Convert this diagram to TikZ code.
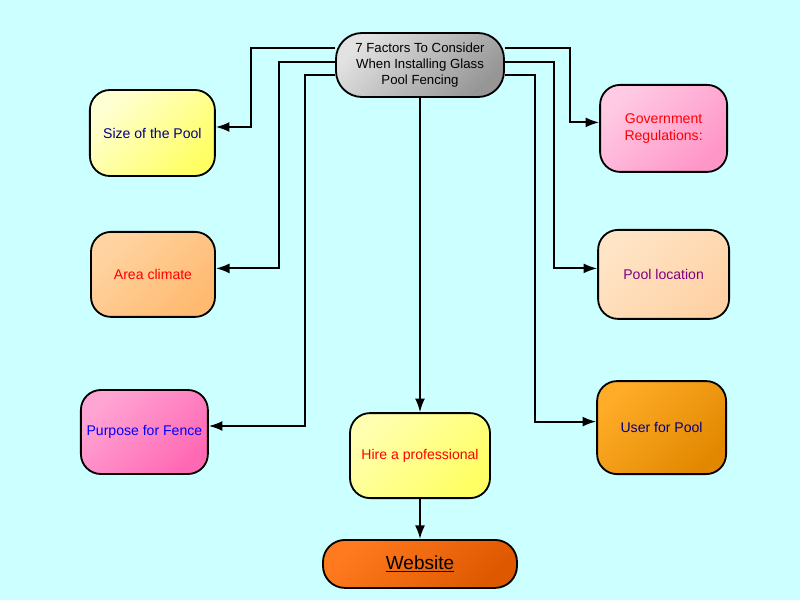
\documentclass[tikz,border=0pt]{standalone}
\usepackage{fontspec}
\setmainfont{Liberation Sans}
\usepackage{tikz}
\usetikzlibrary{arrows.meta,positioning,shadings}
\definecolor{canvas}{RGB}{204,255,255}
\definecolor{topA}{RGB}{226,226,226}
\definecolor{topB}{RGB}{150,150,150}
\definecolor{sizeA}{RGB}{255,255,212}
\definecolor{sizeB}{RGB}{255,255,100}
\definecolor{govA}{RGB}{255,202,228}
\definecolor{govB}{RGB}{255,150,200}
\definecolor{areaA}{RGB}{255,212,162}
\definecolor{areaB}{RGB}{255,186,112}
\definecolor{locA}{RGB}{255,228,198}
\definecolor{locB}{RGB}{255,210,165}
\definecolor{purpA}{RGB}{255,165,212}
\definecolor{purpB}{RGB}{255,105,180}
\definecolor{hireA}{RGB}{255,255,175}
\definecolor{hireB}{RGB}{255,255,100}
\definecolor{userA}{RGB}{255,172,40}
\definecolor{userB}{RGB}{226,136,0}
\definecolor{webA}{RGB}{255,122,30}
\definecolor{webB}{RGB}{222,88,0}
\definecolor{navy}{RGB}{0,0,128}
\definecolor{violet}{RGB}{128,0,128}

\begin{document}
\begin{tikzpicture}[
    factor/.style={rectangle, draw, line width=1.3pt, rounded corners=0.5cm, align=center, font=\fontsize{10}{12}\selectfont},
    grad/.style 2 args={top color=#1, bottom color=#2, shading angle=45},
    link/.style={-{Latex[length=3.4mm,width=2.5mm]}, line width=1.3pt}
]
    \fill[canvas] (0,0) rectangle (20,15);

    \node[factor, grad={topA}{topB}, minimum width=4.2cm, minimum height=1.6cm, rounded corners=0.65cm, font=\fontsize{9.4}{11.2}\selectfont] (top) at (10.5,13.375) {7 Factors To Consider\\When Installing Glass\\Pool Fencing};
    \node[factor, grad={sizeA}{sizeB}, minimum width=3.125cm, minimum height=2.15cm, text=navy] (size) at (3.81,11.675) {Size of the Pool};
    \node[factor, grad={areaA}{areaB}, minimum width=3.1cm, minimum height=2.125cm, text=red] (area) at (3.825,8.14) {Area climate};
    \node[factor, grad={purpA}{purpB}, minimum width=3.175cm, minimum height=2.1cm, text=blue] (purpose) at (3.61,4.2) {Purpose for Fence};
    \node[factor, grad={govA}{govB}, minimum width=3.175cm, minimum height=2.175cm, text=red] (gov) at (16.59,11.79) {Government\\Regulations:};
    \node[factor, grad={locA}{locB}, minimum width=3.275cm, minimum height=2.225cm, text=violet] (loc) at (16.59,8.14) {Pool location};
    \node[factor, grad={userA}{userB}, minimum width=3.225cm, minimum height=2.325cm, text=navy] (user) at (16.54,4.31) {User for Pool};
    \node[factor, grad={hireA}{hireB}, minimum width=3.5cm, minimum height=2.125cm, text=red] (hire) at (10.5,3.61) {Hire a professional};
    \node[factor, grad={webA}{webB}, below=1cm of hire, minimum width=4.85cm, minimum height=1.2cm, rounded corners=0.55cm, font=\fontsize{13.5}{15}\selectfont] (web) {\underline{Website}};

    \draw[link] ([yshift=4.25mm]top.west) -- ++(-2.1,0) |- ([yshift=1.5mm]size.east);
    \draw[link] ([yshift=0.75mm]top.west) -- ++(-1.4,0) |- ([yshift=1.5mm]area.east);
    \draw[link] ([yshift=-2.5mm]top.west) -- ++(-0.75,0) |- ([yshift=1.5mm]purpose.east);
    \draw[link] ([yshift=4.25mm]top.east) -- ++(1.625,0) |- ([yshift=1.5mm]gov.west);
    \draw[link] ([yshift=0.75mm]top.east) -- ++(1.225,0) |- ([yshift=1.5mm]loc.west);
    \draw[link] ([yshift=-2.5mm]top.east) -- ++(0.75,0) |- ([yshift=1.5mm]user.west);
    \draw[link] (top) -- (hire);
    \draw[link] (hire) -- (web);
\end{tikzpicture}
\end{document}
